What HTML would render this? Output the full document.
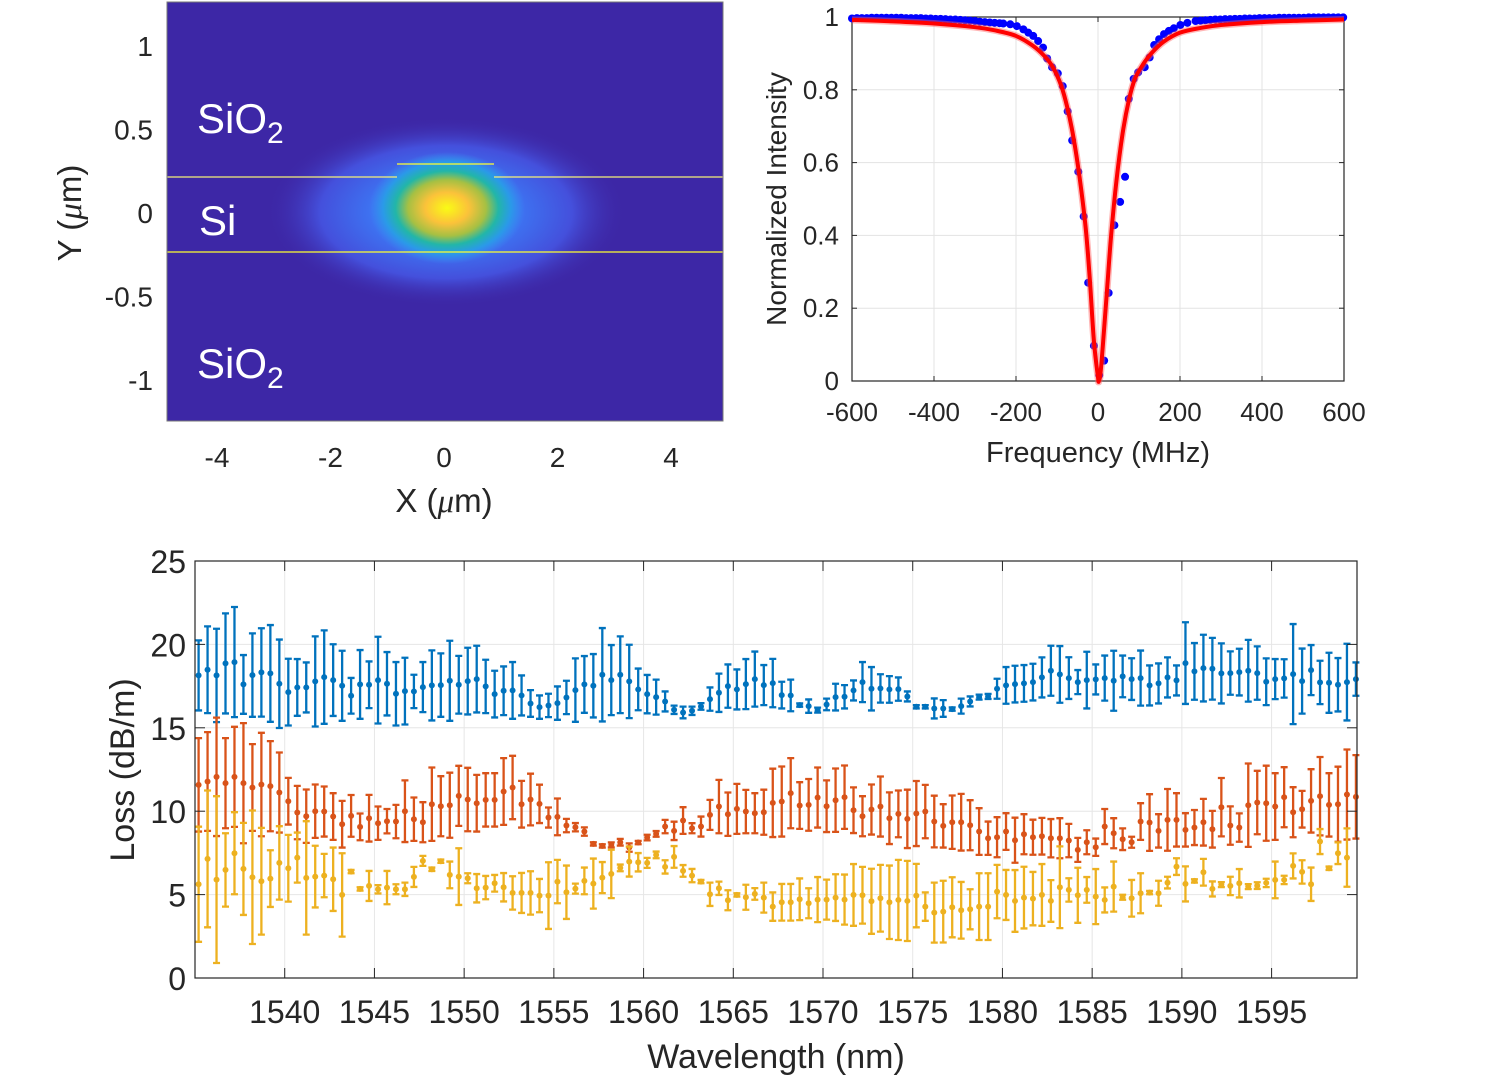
<!DOCTYPE html>
<html><head><meta charset="utf-8">
<style>
html,body{margin:0;padding:0;background:#fff;}
svg{display:block;font-family:"Liberation Sans",Arial,sans-serif;}
</style></head>
<body>
<svg id="root" width="1501" height="1078" viewBox="0 0 1501 1078" xmlns="http://www.w3.org/2000/svg">
<defs>
  <radialGradient id="halo" cx="50%" cy="50%" r="50%">
    <stop offset="0" stop-color="#3a8cf2"/>
    <stop offset="0.4" stop-color="#3d74f2"/>
    <stop offset="0.7" stop-color="#4450dc"/>
    <stop offset="1" stop-color="#3d27a6" stop-opacity="0"/>
  </radialGradient>
  <radialGradient id="core" cx="50%" cy="50%" r="50%">
    <stop offset="0" stop-color="#f9fb15"/>
    <stop offset="0.28" stop-color="#fbc23a"/>
    <stop offset="0.5" stop-color="#a6c043"/>
    <stop offset="0.66" stop-color="#22b6a8"/>
    <stop offset="0.82" stop-color="#2a9ae8"/>
    <stop offset="1" stop-color="#3a8cf2" stop-opacity="0"/>
  </radialGradient>
  <clipPath id="modeClip"><rect x="167" y="2" width="556" height="419"/></clipPath>
</defs>

<g>
  <g clip-path="url(#modeClip)">
    <rect x="167" y="2" width="556" height="419" fill="#3d27a6"/>
    <ellipse cx="446" cy="212" rx="180" ry="95" fill="url(#halo)"/>
    <ellipse cx="447" cy="208" rx="78" ry="56" fill="url(#core)"/>
    <g stroke="#f5f07a" stroke-width="1.3">
      <line x1="167" y1="177" x2="397" y2="177"/>
      <line x1="397" y1="164" x2="494" y2="164" stroke="#ffff30"/>
      <line x1="494" y1="177" x2="723" y2="177"/>
      <line x1="167" y1="252" x2="723" y2="252" stroke="#ffff30"/>
    </g>
  </g>
  <rect x="167" y="2" width="556" height="419" fill="none" stroke="#777" stroke-width="1"/>
  <g fill="#fff">
    <text x="197" y="133" font-size="42">SiO<tspan font-size="30" dy="10">2</tspan></text>
    <text x="199" y="235" font-size="42">Si</text>
    <text x="197" y="378" font-size="42">SiO<tspan font-size="30" dy="10">2</tspan></text>
  </g>
  <g id="modeTicks" fill="#262626" font-size="28"></g>
  <text x="444" y="512" text-anchor="middle" font-size="33" fill="#262626">X (<tspan font-family="'Liberation Serif',serif" font-style="italic">μ</tspan>m)</text>
  <text transform="translate(81,213) rotate(-90)" text-anchor="middle" font-size="33" fill="#262626">Y (<tspan font-family="'Liberation Serif',serif" font-style="italic">μ</tspan>m)</text>
</g>

<g id="res"></g>
<g id="loss"></g>
</svg>

<script>
const modeXTicks = [-4,-2,0,2,4];
const modeYTicks = [1,0.5,0,-0.5,-1];
const mx = v => 444 + v*56.75;
const my = v => 213 - v*167;
const NS = 'http://www.w3.org/2000/svg';
function mk(tag, attrs, parent){const e=document.createElementNS(NS,tag);for(const k in attrs)e.setAttribute(k,attrs[k]);parent.appendChild(e);return e;}
const mt = document.getElementById('modeTicks');
modeXTicks.forEach(v=>{
  const t=mk('text',{x:mx(v),y:467,'text-anchor':'middle'},mt);
  t.textContent = v<0 ? '-'+Math.abs(v) : String(v);
  
  
});
modeYTicks.forEach(v=>{
  const t=mk('text',{x:153,y:my(v)+10,'text-anchor':'end'},mt);
  t.textContent = v<0 ? '-'+Math.abs(v) : String(v);
  
  
});

// ---------- Resonance panel ----------
const resXTicks = [-600,-400,-200,0,200,400,600];
const resYTicks = [0,0.2,0.4,0.6,0.8,1];
const measFreq = [-600,-588,-576,-564,-552,-540,-528,-516,-504,-492,-480,-468,-456,-444,-432,-420,-408,-396,-384,-372,-360,-348,-336,-324,-312,-300,-288,-276,-264,-252,-240,-231,-214,-198,-182,-170,-158,-146,-134,-124,-112,-98,-86,-74,-63,-48,-35,-24,-10,3,15,26,40,54,66,75,87,98,114,126,137,149,161,173,185,201,218,238,250,262,274,286,298,310,322,334,346,358,370,382,394,406,418,430,442,454,466,478,490,502,514,526,538,550,562,574,586,598];
const measInt = [0.996,0.997,0.997,0.997,0.998,0.998,0.998,0.998,0.998,0.998,0.998,0.997,0.997,0.997,0.997,0.996,0.996,0.995,0.995,0.994,0.993,0.993,0.992,0.991,0.990,0.989,0.987,0.986,0.985,0.984,0.983,0.982,0.980,0.975,0.966,0.957,0.948,0.934,0.916,0.886,0.862,0.845,0.810,0.741,0.661,0.575,0.452,0.270,0.097,0.016,0.056,0.242,0.428,0.492,0.561,0.775,0.830,0.848,0.862,0.889,0.923,0.939,0.953,0.962,0.969,0.978,0.984,0.989,0.990,0.991,0.992,0.993,0.993,0.994,0.994,0.995,0.995,0.996,0.996,0.996,0.997,0.997,0.997,0.997,0.998,0.998,0.998,0.998,0.998,0.998,0.999,0.999,0.999,0.999,0.999,0.999,0.999,0.999];
const fitFreq = [-600,-500,-400,-300,-250,-200,-160,-130,-110,-90,-75,-60,-45,-30,-20,-10,0,2,6,12,22,32,45,60,75,90,110,130,160,200,250,300,400,500,600];
const fitInt  = [0.992,0.988,0.982,0.972,0.963,0.948,0.922,0.892,0.862,0.812,0.752,0.670,0.560,0.420,0.280,0.110,0.010,0.0,0.02,0.10,0.25,0.40,0.55,0.68,0.77,0.83,0.87,0.90,0.932,0.957,0.970,0.978,0.986,0.990,0.993];

const rx = f => 852 + (f+600)*(1344-852)/1200;
const ry = v => 381 - v*(381-17);
const res = document.getElementById('res');
resXTicks.forEach(f=>{ const l=mk('line',{x1:rx(f),x2:rx(f),y1:17,y2:381,stroke:'#e3e3e3','stroke-width':1},res);
   });
resYTicks.forEach(v=>{ const l=mk('line',{x1:852,x2:1344,y1:ry(v),y2:ry(v),stroke:'#e3e3e3','stroke-width':1},res);
   });
const rbox=mk('rect',{x:852,y:17,width:492,height:364,fill:'none',stroke:'#262626','stroke-width':1.2},res);
 
resXTicks.forEach(f=>{
  mk('line',{x1:rx(f),x2:rx(f),y1:381,y2:376,stroke:'#262626'},res);
  mk('line',{x1:rx(f),x2:rx(f),y1:17,y2:22,stroke:'#262626'},res);
  const t=mk('text',{x:rx(f),y:421,'text-anchor':'middle','font-size':26,fill:'#262626'},res);
  t.textContent=String(f);
   
});
resYTicks.forEach(v=>{
  mk('line',{x1:852,x2:857,y1:ry(v),y2:ry(v),stroke:'#262626'},res);
  mk('line',{x1:1344,x2:1339,y1:ry(v),y2:ry(v),stroke:'#262626'},res);
  const t=mk('text',{x:839,y:ry(v)+9,'text-anchor':'end','font-size':26,fill:'#262626'},res);
  t.textContent=String(v);
   
});
const rxt=mk('text',{x:1098,y:462,'text-anchor':'middle','font-size':29,fill:'#262626'},res);
rxt.textContent='Frequency (MHz)';
 
const ryt=mk('text',{transform:'translate(786,199) rotate(-90)','text-anchor':'middle','font-size':28,fill:'#262626'},res);
ryt.textContent='Normalized Intensity';
 
const dotG=mk('g',{fill:'#0000ff'},res);
 
measFreq.forEach((f,i)=>{
  const c=mk('circle',{cx:rx(f),cy:ry(measInt[i]),r:4},dotG);
   
});
function crPath(pts){
  let d='M'+pts[0][0]+','+pts[0][1];
  for(let i=0;i<pts.length-1;i++){
    const p0=pts[Math.max(0,i-1)],p1=pts[i],p2=pts[i+1],p3=pts[Math.min(pts.length-1,i+2)];
    const c1=[p1[0]+(p2[0]-p0[0])/6,p1[1]+(p2[1]-p0[1])/6];
    const c2=[p2[0]-(p3[0]-p1[0])/6,p2[1]-(p3[1]-p1[1])/6];
    d+=' C'+c1[0]+','+c1[1]+' '+c2[0]+','+c2[1]+' '+p2[0]+','+p2[1];
  }
  return d;
}
const fitPts = fitFreq.map((f,i)=>[rx(f), ry(fitInt[i])]);
const fb=mk('path',{d:crPath(fitPts),fill:'none',stroke:'#ff6060','stroke-width':7,'stroke-opacity':0.45},res);
 
const fl=mk('path',{d:crPath(fitPts),fill:'none',stroke:'#ff0000','stroke-width':4},res);
 

// ---------- Loss panel ----------
const wlStart = 1535.2, wlStep = 0.5;
const lossXTicks = [1540,1545,1550,1555,1560,1565,1570,1575,1580,1585,1590,1595];
const lossYTicks = [0,5,10,15,20,25];
const blueVal = [18.14,18.48,18.14,18.86,18.94,17.6,18.16,18.32,18.26,17.64,17.14,17.42,17.42,17.78,18.04,17.86,17.52,16.92,17.6,17.58,17.86,17.64,17.04,17.2,17.18,17.44,17.54,17.56,17.82,17.58,17.8,17.92,17.48,17.02,
17.22,17.24,16.94,16.46,16.24,16.34,16.48,16.82,17.26,17.6,17.52,18.18,17.86,18.18,17.78,17.3,17.02,16.84,16.58,16.08,15.92,16.02,16.28,16.72,17.1,17.5,17.3,17.62,17.92,17.56,17.68,16.96,
16.94,16.36,16.3,16.06,16.4,16.84,16.86,17.24,17.74,17.34,17.36,17.3,17.32,16.88,16.26,16.26,16.16,16.16,16.12,16.3,16.58,16.84,16.88,17.34,17.54,17.62,17.66,17.74,18.02,18.42,18.2,17.98,
17.74,17.86,17.9,17.98,17.82,18.08,17.92,17.98,17.54,17.66,18.02,17.84,18.88,18.38,18.58,18.54,18.26,18.28,18.34,18.42,18.28,17.76,17.92,17.96,18.22,17.8,18.46,17.72,17.7,17.58,17.74,17.92];
const blueErr = [2.1,2.6,2.8,3.0,3.3,1.76,2.5,2.65,2.9,2.65,2.0,1.7,1.5,2.7,2.8,2.15,2.1,1.07,2.06,1.4,2.6,1.9,1.9,2.0,1.0,1.5,2.1,1.9,2.4,1.73,2.0,2.0,1.6,1.4,
1.46,1.7,1.2,0.8,0.7,0.7,1.0,1.0,1.9,1.7,1.9,2.8,2.1,2.3,2.2,1.25,1.15,1.05,0.6,0.25,0.35,0.25,0.2,0.7,1.15,1.3,1.2,1.5,1.65,1.2,1.45,0.8,
0.95,0.1,0.4,0.15,0.35,0.8,0.7,0.6,1.2,1.3,0.85,0.8,0.7,0.3,0.1,0.1,0.6,0.5,0.1,0.45,0.3,0.15,0.15,0.6,1.1,1.1,1.1,1.1,1.2,1.5,1.7,1.25,
0.72,1.7,0.9,1.35,1.8,1.25,1.25,1.65,1.2,1.2,1.2,0.9,2.45,1.7,2.0,1.85,1.8,1.3,1.4,1.85,1.6,1.4,1.2,1.15,3.0,1.95,1.5,1.3,1.8,1.6,2.3,1.0];
const orangeVal = [11.58,11.78,12.06,11.68,12.06,11.68,11.42,11.6,11.5,11.12,10.6,9.92,9.7,10.0,9.98,9.68,9.22,9.72,9.06,9.58,9.28,9.4,9.38,10.0,9.52,9.34,10.42,10.3,10.36,10.92,10.7,10.48,10.68,10.68,
11.18,11.42,10.42,10.7,10.44,9.62,9.66,9.14,9.04,8.78,8.04,7.92,7.98,8.14,7.82,8.12,8.42,8.64,9.08,8.82,9.44,8.98,9.08,9.78,10.28,9.82,10.14,9.98,9.88,9.94,10.5,10.58,
11.08,10.34,10.38,10.82,10.3,10.66,10.84,10.06,9.7,10.1,10.28,9.58,9.84,9.54,9.86,9.98,9.38,9.12,9.34,9.34,9.16,8.78,8.38,8.44,8.78,8.26,8.62,8.44,8.5,8.38,8.38,8.24,
7.68,8.14,7.84,9.08,8.68,8.32,8.14,9.38,9.32,8.82,9.48,9.48,8.88,9.02,9.34,8.92,10.24,9.14,9.02,10.36,10.52,10.48,10.28,10.84,9.94,10.12,10.62,10.9,10.38,10.42,11.0,10.86];
const orangeErr = [2.8,2.96,3.55,2.7,3.0,3.6,2.6,3.1,2.7,2.4,1.4,1.6,1.6,1.6,1.5,1.4,1.4,1.25,0.8,1.4,1.0,0.73,1.0,1.85,1.3,1.2,2.2,1.8,1.95,1.8,1.9,1.7,1.6,1.6,
2.0,1.9,1.4,1.55,1.15,0.6,1.1,0.4,0.25,0.25,0.1,0.1,0.15,0.2,0.25,0.1,0.17,0.17,0.4,0.55,0.8,0.3,0.6,0.9,1.6,1.3,1.5,1.3,1.2,1.35,2.05,2.1,
2.1,1.4,1.55,1.8,1.55,1.9,1.9,1.37,1.2,1.5,1.8,1.55,1.4,1.75,1.95,1.6,1.55,1.3,1.6,1.7,1.5,1.4,1.0,1.2,1.1,1.35,1.2,1.05,1.1,1.15,1.2,1.0,
0.72,0.72,0.52,1.05,0.9,0.65,0.33,1.1,1.7,1.0,1.85,1.6,1.0,1.05,1.4,1.1,1.75,1.15,0.85,2.5,1.9,2.25,2.0,1.8,1.5,1.1,1.9,2.35,1.9,2.25,2.7,2.5];
const yellowVal = [5.62,7.14,5.9,6.48,7.48,6.54,6.04,5.8,5.96,6.9,6.58,7.22,6.0,6.08,6.14,5.92,4.98,6.38,5.34,5.52,5.32,5.42,5.32,5.32,6.06,7.02,6.52,7.0,6.18,6.08,5.98,5.38,5.42,5.68,
5.44,5.1,5.1,5.1,4.94,4.94,5.78,5.14,5.36,5.82,5.66,6.02,6.24,6.6,6.98,6.94,6.9,7.38,6.66,7.26,6.42,6.14,5.78,5.02,5.38,4.66,4.98,4.84,5.04,4.82,4.28,4.54,
4.54,4.72,4.48,4.7,4.7,4.82,4.7,4.98,4.96,4.6,4.78,4.54,4.68,4.62,4.94,4.28,3.92,3.98,4.24,4.06,4.12,4.28,4.28,5.18,4.98,4.62,4.82,4.76,4.98,4.62,5.44,5.28,
4.96,5.28,4.88,4.68,5.48,4.84,4.78,5.08,5.12,5.08,5.72,6.68,5.64,5.82,6.34,5.34,5.6,5.52,5.68,5.48,5.54,5.7,5.88,5.88,6.72,6.36,5.62,8.18,6.58,7.48,7.22];
const yellowErr = [3.45,4.1,5.0,2.2,2.46,2.76,4.0,3.2,1.7,2.2,2.0,1.5,3.4,1.85,1.3,1.9,2.5,0.1,0.1,0.9,0.25,1.0,0.3,0.4,0.6,0.3,0.1,0.1,0.8,1.7,0.3,0.85,0.7,0.5,
0.85,1.0,1.2,1.3,1.0,2.0,1.3,1.6,0.3,0.8,1.5,0.93,1.45,0.2,0.9,0.55,0.3,0.2,0.4,0.65,0.35,0.4,0.1,0.7,0.4,0.6,0.1,0.75,0.35,0.9,0.85,1.1,
1.1,1.25,0.9,1.35,1.2,1.4,1.5,1.85,1.7,1.95,2.0,2.2,2.4,2.4,1.9,0.85,1.8,1.85,1.8,1.7,1.2,2.0,2.0,1.6,1.5,1.85,1.85,1.6,1.85,1.25,2.45,0.7,
1.65,0.77,1.65,0.75,1.5,0.15,1.1,1.2,0.1,0.75,0.35,0.5,1.05,0.1,0.8,0.45,0.15,0.55,0.85,0.15,0.2,0.25,1.1,0.25,0.75,0.7,1.0,0.75,0.1,0.65,1.75];

const LX0=195, LX1=1357, LY0=978, LY1=561, WMIN=1535, WMAX=1599.76;
const lx = w => LX0 + (w-WMIN)*(LX1-LX0)/(WMAX-WMIN);
const ly = v => LY0 - v*(LY0-LY1)/25;
const loss = document.getElementById('loss');
lossXTicks.forEach(w=>{ const l=mk('line',{x1:lx(w),x2:lx(w),y1:LY1,y2:LY0,stroke:'#e6e6e6','stroke-width':1},loss);
   });
lossYTicks.forEach(v=>{ const l=mk('line',{x1:LX0,x2:LX1,y1:ly(v),y2:ly(v),stroke:'#e6e6e6','stroke-width':1},loss);
   });
function drawSeries(vals, errs, color, name){
  const g=mk('g',{stroke:color,fill:color},loss);
   
  vals.forEach((v,i)=>{
    const x=lx(wlStart+wlStep*i), e=errs[i];
    const yt=ly(v+e), yb=ly(v-e);
    const bar=mk('path',{d:'M'+x+','+yt+'V'+yb+'M'+(x-3.5)+','+yt+'H'+(x+3.5)+'M'+(x-3.5)+','+yb+'H'+(x+3.5),'stroke-width':2.3,fill:'none'},g);
     
    const c=mk('circle',{cx:x,cy:ly(v),r:3,stroke:'none'},g);
     
  });
}
drawSeries(blueVal, blueErr, '#0072BD', 'series-blue');
drawSeries(orangeVal, orangeErr, '#D95319', 'series-orange');
drawSeries(yellowVal, yellowErr, '#EDB120', 'series-yellow');
const lbox=mk('rect',{x:LX0,y:LY1,width:LX1-LX0,height:LY0-LY1,fill:'none',stroke:'#262626','stroke-width':1.2},loss);
 
lossXTicks.forEach(w=>{
  mk('line',{x1:lx(w),x2:lx(w),y1:LY0,y2:LY0-10,stroke:'#262626'},loss);
  mk('line',{x1:lx(w),x2:lx(w),y1:LY1,y2:LY1+10,stroke:'#262626'},loss);
  const t=mk('text',{x:lx(w),y:1023,'text-anchor':'middle','font-size':32,fill:'#262626'},loss);
  t.textContent=String(w);
   
});
lossYTicks.forEach(v=>{
  mk('line',{x1:LX0,x2:LX0+10,y1:ly(v),y2:ly(v),stroke:'#262626'},loss);
  mk('line',{x1:LX1,x2:LX1-10,y1:ly(v),y2:ly(v),stroke:'#262626'},loss);
  const t=mk('text',{x:186,y:ly(v)+12,'text-anchor':'end','font-size':32,fill:'#262626'},loss);
  t.textContent=String(v);
   
});
const lxt=mk('text',{x:776,y:1068,'text-anchor':'middle','font-size':34,fill:'#262626'},loss);
lxt.textContent='Wavelength (nm)';
 
const lyt=mk('text',{transform:'translate(134,770) rotate(-90)','text-anchor':'middle','font-size':34,fill:'#262626'},loss);
lyt.textContent='Loss (dB/m)';
 
</script>
</body></html>
